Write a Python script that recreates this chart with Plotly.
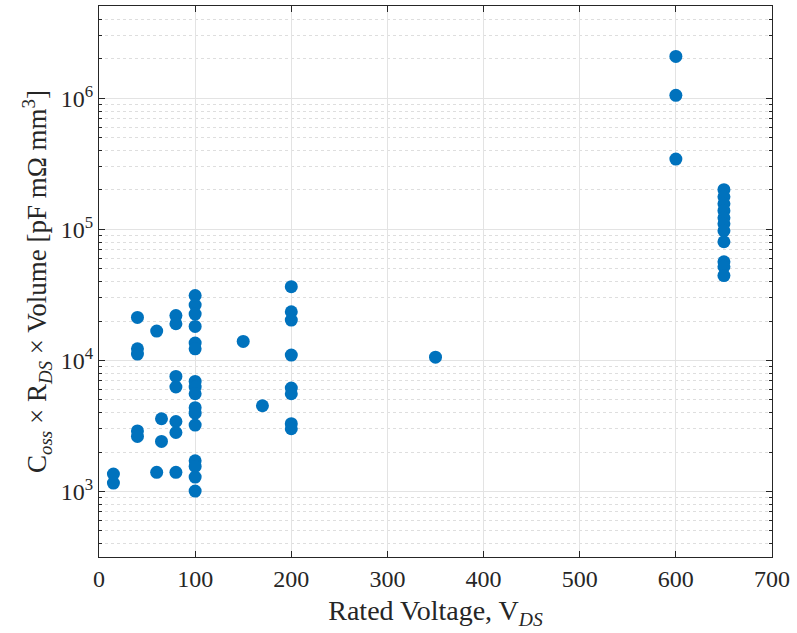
import plotly.graph_objects as go

# Data: rated voltage (V) and Coss x Rds x Volume (pF mOhm mm^3)
v_15 = [15, 15]
y_15 = [1360, 1160]
v_40 = [40, 40, 40, 40, 40]
y_40 = [21300, 12270, 11190, 2900, 2630]
v_60 = [60, 60]
y_60 = [16750, 1400]
v_65 = [65, 65]
y_65 = [3590, 2410]
v_80 = [80, 80, 80, 80, 80, 80, 80]
y_80 = [22000, 19060, 7550, 6270, 3420, 2820, 1400]
v_100 = [100] * 16
y_100 = [31300, 26500, 22600, 18190, 13590, 12270, 6920, 6270, 5570, 4360,
         3960, 3210, 1715, 1552, 1288, 1007]
v_150 = [150]
y_150 = [13970]
v_170 = [170]
y_170 = [4510]
v_200 = [200] * 8
y_200 = [36560, 23540, 20330, 10990, 6150, 5570, 3290, 3010]
v_350 = [350]
y_350 = [10600]
v_600 = [600, 600, 600]
y_600 = [2090000, 1055000, 344000]
v_650 = [650] * 11
y_650 = [201000, 177500, 157000, 139000, 122800, 110500, 97700, 80500,
         56600, 51900, 44400]

volts = v_15 + v_40 + v_60 + v_65 + v_80 + v_100 + v_150 + v_170 + v_200 + v_350 + v_600 + v_650
fom = y_15 + y_40 + y_60 + y_65 + y_80 + y_100 + y_150 + y_170 + y_200 + y_350 + y_600 + y_650

x_ticks = [0, 100, 200, 300, 400, 500, 600, 700]
y_ticks = [1e3, 1e4, 1e5, 1e6]
y_ticktext = ["10<sup>3</sup>", "10<sup>4</sup>", "10<sup>5</sup>", "10<sup>6</sup>"]
y_minor = [m * 10 ** k for k in range(2, 7) for m in range(2, 10)]

fig = go.Figure()
fig.add_trace(go.Scatter(
    x=volts, y=fom, mode="markers",
    marker=dict(color="#0072BD", size=13, line=dict(width=0)),
    showlegend=False,
))

font_family = "Liberation Serif, DejaVu Serif, serif"
axis_col = "#262626"

fig.update_layout(
    width=797, height=633,
    margin=dict(l=99, r=25, t=6, b=76),
    paper_bgcolor="white", plot_bgcolor="white",
    font=dict(family=font_family, size=24, color=axis_col),
    xaxis=dict(
        range=[0, 700], tickvals=x_ticks, ticktext=[str(t) for t in x_ticks],
        showgrid=True, gridcolor="#e3e3e3", gridwidth=1,
        showline=True, linecolor=axis_col, linewidth=1, mirror="allticks",
        ticks="inside", ticklen=6, tickcolor=axis_col,
        zeroline=False,
        title=dict(text="Rated Voltage, V<sub><i>DS</i></sub>", standoff=9,
                   font=dict(size=28)),
        tickfont=dict(size=24),
    ),
    yaxis=dict(
        type="log", range=[2.5, 6.705],
        tickvals=y_ticks, ticktext=y_ticktext,
        showgrid=True, gridcolor="#e3e3e3", gridwidth=1,
        showline=True, linecolor=axis_col, linewidth=1, mirror="allticks",
        ticks="inside", ticklen=6, tickcolor=axis_col,
        zeroline=False,
        minor=dict(tickvals=y_minor, showgrid=True, gridcolor="#dedede",
                   griddash="dot", gridwidth=1, ticks="inside", ticklen=3,
                   tickcolor=axis_col),
        title=dict(text="C<sub><i>oss</i></sub> × R<sub><i>DS</i></sub> × Volume [pF mΩ mm<sup>3</sup>]",
                   standoff=6, font=dict(size=27)),
        tickfont=dict(size=24),
    ),
)

fig.write_html("out.html")
